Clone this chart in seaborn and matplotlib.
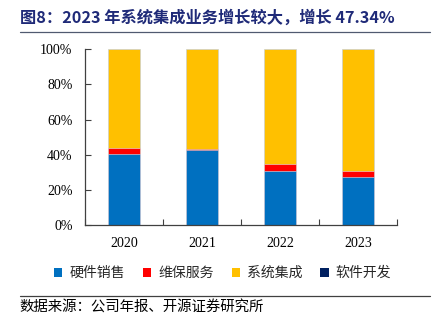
import matplotlib
matplotlib.use("Agg")
import matplotlib.pyplot as plt
from matplotlib.patches import Patch
from matplotlib.lines import Line2D
import seaborn as sns
import pandas as pd
import numpy as np

years = ["2020", "2021", "2022", "2023"]
hardware = [40.2, 42.5, 30.7, 27.3]      # 硬件销售
maintenance = [3.8, 0.9, 3.8, 3.2]       # 维保服务
integration = [56.0, 56.6, 65.5, 69.5]   # 系统集成
software = [0.0, 0.0, 0.0, 0.0]          # 软件开发

series_names = ["硬件销售", "维保服务", "系统集成", "软件开发"]
series_colors = ["#0070C0", "#FF0000", "#FFC000", "#002060"]
yticks = [0, 20, 40, 60, 80, 100]
ytick_labels = ["0%", "20%", "40%", "60%", "80%", "100%"]

title_text = "图8：2023 年系统集成业务增长较大，增长 47.34%"
source_text = "数据来源：公司年报、开源证券研究所"

sns.set_theme(style="white")
plt.rcParams["font.family"] = ["Noto Sans CJK SC", "DejaVu Sans"]

fig = plt.figure(figsize=(4.32, 3.27), dpi=100)
ax = fig.add_axes([0.197, 0.312, 0.722, 0.537])

# stacked bars: draw cumulative totals from the top layer down
layers = [hardware, maintenance, integration, software]
cum = np.cumsum(np.array(layers), axis=0)
for i in range(len(layers) - 1, -1, -1):
    df = pd.DataFrame({"year": years, "value": cum[i]})
    sns.barplot(data=df, x="year", y="value", color=series_colors[i],
                width=0.4, ax=ax, saturation=1, edgecolor="#DDE6F0",
                linewidth=0.4)

ax.set_xlim(-0.5, 3.5)
ax.set_ylim(0, 100)
ax.set_yticks(yticks)
ax.set_yticklabels(ytick_labels, family="Liberation Serif", fontsize=10)
ax.set_xticks(range(len(years)))
ax.set_xticklabels(years, family="Liberation Serif", fontsize=10)
ax.set_xlabel("")
ax.set_ylabel("")
ax.set_xticks(np.arange(-0.5, 4.0, 1.0), minor=True)

for s in ["top", "right"]:
    ax.spines[s].set_visible(False)
for s in ["left", "bottom"]:
    ax.spines[s].set_color("#404040")
    ax.spines[s].set_linewidth(0.9)

ax.tick_params(axis="y", which="major", direction="in", length=4, width=0.8,
               color="#404040", pad=9, left=True, labelcolor="black")
ax.tick_params(axis="x", which="major", length=0, pad=9, labelcolor="black")
ax.tick_params(axis="x", which="minor", direction="in", length=4, width=0.8,
               color="#404040", bottom=True)

handles = [Patch(facecolor=c, edgecolor="none") for c in series_colors]
fig.legend(handles, series_names, loc="center", bbox_to_anchor=(0.515, 0.165),
           ncol=4, frameon=False, fontsize=10, handlelength=0.6,
           handleheight=0.6, handletextpad=0.5, columnspacing=1.3)

fig.text(0.046, 0.945, title_text, fontsize=11.7, fontweight="bold",
         color="#1F2A78", va="center", ha="left")
fig.add_artist(Line2D([0.046, 0.995], [0.902, 0.902], color="#505A70",
                      linewidth=0.9))
fig.add_artist(Line2D([0.046, 0.995], [0.095, 0.095], color="#404040",
                      linewidth=0.9))
fig.text(0.046, 0.063, source_text, fontsize=10.4, color="black",
         va="center", ha="left")

fig.savefig("out.png", dpi=100)
